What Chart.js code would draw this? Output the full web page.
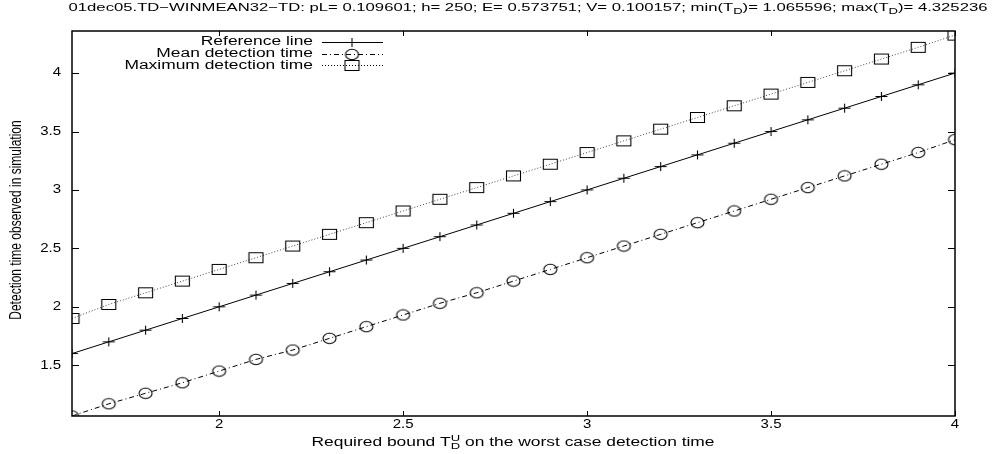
<!DOCTYPE html>
<html>
<head>
<meta charset="utf-8">
<script src="https://cdn.jsdelivr.net/npm/chart.js@4/dist/chart.umd.min.js"></script>
<style>
  body { margin: 0; background: #fff; }
  canvas { display: block; }
</style>
</head>
<body>
<canvas id="myChart" width="1000" height="454"></canvas>
<script>
// required bound T_D^U (x) and the observed detection times
const bounds = [1.6, 1.7, 1.8, 1.9, 2.0, 2.1, 2.2, 2.3, 2.4, 2.5, 2.6, 2.7, 2.8,
    2.9, 3.0, 3.1, 3.2, 3.3, 3.4, 3.5, 3.6, 3.7, 3.8, 3.9, 4.0];
const referenceLine = [1.6, 1.7, 1.8, 1.9, 2.0, 2.1, 2.2, 2.3, 2.4, 2.5, 2.6, 2.7, 2.8,
    2.9, 3.0, 3.1, 3.2, 3.3, 3.4, 3.5, 3.6, 3.7, 3.8, 3.9, 4.0];
const meanTimes = [1.065596, 1.17, 1.26, 1.35, 1.45, 1.55, 1.63, 1.73, 1.83, 1.93, 2.03,
    2.12, 2.22, 2.32, 2.42, 2.52, 2.62, 2.72, 2.82, 2.92, 3.02, 3.12, 3.22, 3.32, 3.43];
const maxTimes = [1.90, 2.02, 2.12, 2.22, 2.32, 2.42, 2.52, 2.62, 2.72, 2.82, 2.92,
    3.02, 3.12, 3.22, 3.32, 3.42, 3.52, 3.62, 3.72, 3.82, 3.92, 4.02, 4.12, 4.22, 4.325236];

const xTicks = [2, 2.5, 3, 3.5, 4];
const yTicks = [1.5, 2, 2.5, 3, 3.5, 4];
const tickText = ['2', '2.5', '3', '3.5', '4'];
const yTickText = ['1.5', '2', '2.5', '3', '3.5', '4'];

const FONT = 'Liberation Sans, Arial, sans-serif';
const STRETCH = 1.45; // text is drawn wide, like the postscript original

// small canvas markers: cross, open ellipse, open box
function makeMarker(kind) {
    const c = document.createElement('canvas');
    c.width = 17; c.height = 13;
    const g = c.getContext('2d');
    g.strokeStyle = '#000';
    g.lineWidth = 1.1;
    g.beginPath();
    if (kind === 'cross') {
        g.moveTo(2.5, 6.5); g.lineTo(14.5, 6.5);
        g.moveTo(8.5, 2); g.lineTo(8.5, 11);
    } else if (kind === 'circle') {
        g.ellipse(8.5, 6.5, 6.5, 5.2, 0, 0, Math.PI * 2);
    } else {
        g.rect(1.5, 1.5, 14, 10);
    }
    g.stroke();
    return c;
}
const crossMark = makeMarker('cross');
const circleMark = makeMarker('circle');
const boxMark = makeMarker('box');

function pairs(ys) {
    return bounds.map((x, i) => ({ x: x, y: ys[i] }));
}

function wideText(ctx, text, x, y, align, size, sx) {
    ctx.save();
    ctx.font = size + 'px ' + FONT;
    ctx.translate(x, y);
    ctx.scale(sx || STRETCH, 1);
    ctx.textAlign = align;
    ctx.textBaseline = 'middle';
    ctx.fillText(text, 0, 0);
    ctx.restore();
}

// runs of text with sub/superscripts, drawn left to right and centred on cx
function richText(ctx, parts, cx, y, size) {
    ctx.save();
    ctx.textBaseline = 'middle';
    ctx.textAlign = 'left';
    const small = Math.round(size * 0.75);
    let total = 0;
    parts.forEach(p => {
        ctx.font = (p.kind ? small : size) + 'px ' + FONT;
        p.w = ctx.measureText(p.t).width * STRETCH;
        if (p.kind !== 'sup') total += p.w;
    });
    let x = cx - total / 2;
    parts.forEach(p => {
        ctx.font = (p.kind ? small : size) + 'px ' + FONT;
        const dy = p.kind === 'sub' ? 4 : p.kind === 'sup' ? -4 : 0;
        ctx.save();
        ctx.translate(x, y + dy);
        ctx.scale(STRETCH, 1);
        ctx.fillText(p.t, 0, 0);
        ctx.restore();
        if (p.kind !== 'sup') x += p.w;
    });
    ctx.restore();
}

const gnuplotFrame = {
    id: 'gnuplotFrame',
    afterDraw(chart) {
        const ctx = chart.ctx;
        const a = chart.chartArea;
        const xs = chart.scales.x, ys = chart.scales.y;
        ctx.save();
        ctx.fillStyle = '#000';
        ctx.strokeStyle = '#000';

        // border and mirrored inward ticks
        ctx.lineWidth = 1.5;
        ctx.strokeRect(a.left, a.top, a.right - a.left, a.bottom - a.top);
        ctx.lineWidth = 1;
        ctx.beginPath();
        xTicks.forEach(v => {
            const px = Math.round(xs.getPixelForValue(v)) + 0.5;
            ctx.moveTo(px, a.bottom); ctx.lineTo(px, a.bottom - 5);
            ctx.moveTo(px, a.top); ctx.lineTo(px, a.top + 5);
        });
        yTicks.forEach(v => {
            const py = Math.round(ys.getPixelForValue(v)) + 0.5;
            ctx.moveTo(a.left, py); ctx.lineTo(a.left + 7, py);
            ctx.moveTo(a.right, py); ctx.lineTo(a.right - 7, py);
        });
        ctx.stroke();

        // tick labels
        xTicks.forEach((v, i) => wideText(ctx, tickText[i], xs.getPixelForValue(v), 425, 'center', 12, 1.25));
        yTicks.forEach((v, i) => {
            const py = ys.getPixelForValue(v);
            ctx.save();
            ctx.font = '12px ' + FONT;
            const w = ctx.measureText(yTickText[i]).width * 1.25;
            ctx.restore();
            wideText(ctx, yTickText[i], 61 - w, py, 'left', 12, 1.25);
        });

        // title
        richText(ctx, [
            { t: '01dec05.TD\u2212WINMEAN32\u2212TD: pL= 0.109601; h= 250; E= 0.573751; V= 0.100157; min(T' },
            { t: 'D', kind: 'sub' },
            { t: ')= 1.065596; max(T' },
            { t: 'D', kind: 'sub' },
            { t: ')= 4.325236' }
        ], 528, 8, 11.5);

        // x axis title
        richText(ctx, [
            { t: 'Required bound T' },
            { t: 'U', kind: 'sup' },
            { t: 'D', kind: 'sub' },
            { t: ' on the worst case detection time' }
        ], 513, 443, 12);

        // y axis title
        ctx.save();
        ctx.translate(17, 220);
        ctx.scale(1.3, 1);
        ctx.rotate(-Math.PI / 2);
        ctx.font = '12px ' + FONT;
        ctx.textAlign = 'center';
        ctx.textBaseline = 'middle';
        ctx.fillText('Detection time observed in simulation', 0, 0);
        ctx.restore();

        // key, text right aligned left of the sample line
        chart.data.datasets.forEach((ds, i) => {
            const y = 42 + i * 11.6;
            wideText(ctx, ds.label, 313, y, 'right', 12);
            ctx.save();
            ctx.lineWidth = 1;
            ctx.setLineDash(ds.borderDash || []);
            ctx.beginPath();
            ctx.moveTo(322, Math.round(y) + 0.5);
            ctx.lineTo(383, Math.round(y) + 0.5);
            ctx.stroke();
            ctx.restore();
            const m = ds.pointStyle;
            ctx.drawImage(m, 352 - m.width / 2, Math.round(y) + 0.5 - m.height / 2);
        });
        ctx.restore();
    }
};

const data = {
    datasets: [{
        label: 'Reference line',
        data: pairs(referenceLine),
        borderColor: '#000',
        borderWidth: 1,
        pointStyle: crossMark,
    }, {
        label: 'Mean detection time',
        data: pairs(meanTimes),
        borderColor: '#000',
        borderWidth: 1,
        borderDash: [5, 3, 1, 3],
        pointStyle: circleMark,
    }, {
        label: 'Maximum detection time',
        data: pairs(maxTimes),
        borderColor: '#444',
        borderWidth: 1,
        borderDash: [1, 2],
        pointStyle: boxMark,
    }]
};

const config = {
    type: 'line',
    data: data,
    plugins: [gnuplotFrame],
    options: {
        responsive: false,
        animation: false,
        devicePixelRatio: 1,
        layout: { padding: { top: 31, right: 45, left: 0, bottom: 0 } },
        elements: { line: { tension: 0 }, point: { radius: 6 } },
        plugins: { legend: { display: false }, tooltip: { enabled: false } },
        scales: {
            x: {
                type: 'linear', min: 1.6, max: 4,
                grid: { display: false }, border: { display: false },
                ticks: { display: false },
                afterFit: s => { s.height = 38; }
            },
            y: {
                type: 'linear', min: 1.0656, max: 4.36,
                grid: { display: false }, border: { display: false },
                ticks: { display: false },
                afterFit: s => { s.width = 72; }
            }
        }
    }
};

const myChart = new Chart(document.getElementById('myChart'), config);
</script>
</body>
</html>
